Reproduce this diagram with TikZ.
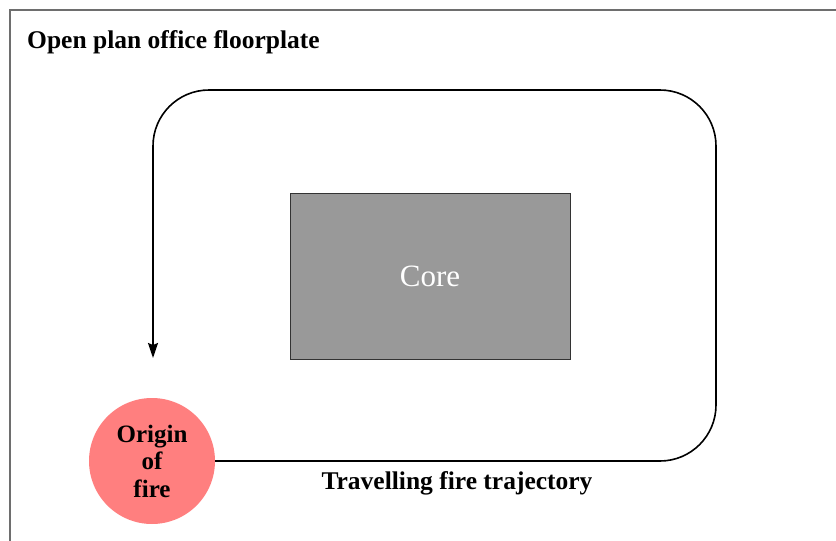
\documentclass[tikz,border=0pt]{standalone}
\usepackage{fontspec}
\setmainfont{Liberation Serif}
\usetikzlibrary{arrows.meta}
\definecolor{framegray}{HTML}{6E6E6E}
\definecolor{coregray}{HTML}{999999}
\definecolor{firered}{HTML}{FF7F7F}
\tikzset{
  lbl/.style={font=\fontsize{25.5}{28}\selectfont\bfseries, inner sep=0pt},
  trajline/.style={line width=1.6pt, black},
}
\begin{document}
\begin{tikzpicture}[x=1pt,y=-1pt]
\useasboundingbox (0,0) rectangle (836,541);
\draw[framegray, line width=1.6pt] (10,560) -- (10,10) -- (850,10);
\node[lbl, anchor=base west] (title) at (27,48) {Open plan office floorplate};
\node[draw=black!80, line width=0.6pt, fill=coregray, minimum width=280pt, minimum height=166pt, inner sep=0pt] (core) at (430,276) {};
\node[text=white, font=\fontsize{31}{34}\selectfont] (coretext) at (core.center) {Core};
\node[circle, fill=firered, minimum size=126pt, inner sep=0pt, align=center, font=\fontsize{25}{27.5}\selectfont\bfseries] (fire) at (152,461) {Origin\\of\\fire};
\coordinate (tip) at (153,358);
\draw[trajline, -{Stealth[length=15pt,width=10pt,inset=2pt]}] (fire.east) -- (660,461) arc[start angle=90, end angle=0, radius=56] -- (716,146) arc[start angle=0, end angle=-90, radius=56] -- (209,90) arc[start angle=-90, end angle=-180, radius=56] -- (tip);
\node[lbl, anchor=base] (traj) at (457,489) {Travelling fire trajectory};
\end{tikzpicture}
\end{document}
